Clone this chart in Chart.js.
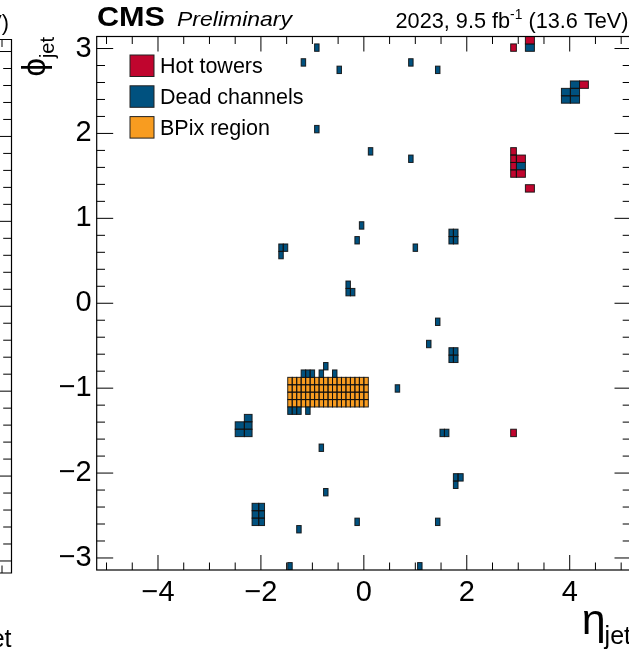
<!DOCTYPE html>
<html>
<head>
<meta charset="utf-8">
<script src="https://cdn.jsdelivr.net/npm/chart.js@4.4.1/dist/chart.umd.min.js"></script>
<style>
  html, body { margin: 0; padding: 0; background: #fff; overflow: hidden; }
  #wrap { position: relative; width: 640px; height: 653px; }
</style>
</head>
<body>
<div id="wrap"><canvas id="chart"></canvas></div>
<script>
// calorimeter tower edges in eta (positive half, mirrored below)
const etaEdgesPos = [0, 0.087, 0.174, 0.261, 0.348, 0.435, 0.522, 0.609, 0.696, 0.783, 0.870,
  0.957, 1.044, 1.131, 1.218, 1.305, 1.392, 1.479, 1.566, 1.653, 1.740, 1.830, 1.930, 2.043,
  2.172, 2.322, 2.500, 2.650, 2.853, 2.964, 3.139, 3.314, 3.489, 3.664, 3.839, 4.013, 4.191,
  4.363, 4.538, 4.716, 4.889, 5.191];
const phiBins = 72;
const xTickValues = [-4, -2, 0, 2, 4];
const yTickValues = [-3, -2, -1, 0, 1, 2, 3];

// cells: [lower eta edge, phi bin index]
const hotTowers = [
  [3.139, 71], [2.853, 70],
  [2.853, 56], [2.853, 55], [2.853, 54], [2.853, 53], [2.964, 55], [2.964, 53],
  [3.139, 51], [4.191, 65], [2.853, 18]
];
const deadChannels = [
  [-0.957, 70], [-1.218, 68], [-0.522, 67], [0.870, 68], [1.392, 67], [3.139, 70],
  [4.013, 65], [3.839, 64], [4.013, 64], [3.839, 63], [4.013, 63],
  [-0.957, 59], [0.087, 56], [0.870, 55], [2.964, 54],
  [-0.087, 46], [-0.174, 44], [0.957, 43],
  [1.653, 45], [1.740, 45], [1.653, 44], [1.740, 44],
  [-1.653, 43], [-1.566, 43], [-1.653, 42],
  [-0.348, 38], [-0.348, 37], [-0.261, 37],
  [1.392, 33], [1.218, 30],
  [1.653, 29], [1.740, 29], [1.653, 28], [1.740, 28],
  [-0.783, 27],
  [-1.218, 26], [-1.131, 26], [-1.044, 26], [-0.870, 26], [-0.609, 26],
  [0.609, 24],
  [-1.479, 21], [-1.392, 21], [-1.305, 21], [-1.131, 21],
  [-2.322, 20], [-2.500, 19], [-2.322, 19], [-2.500, 18], [-2.322, 18],
  [1.479, 18], [1.566, 18],
  [-0.870, 16],
  [1.740, 12], [1.830, 12], [1.740, 11],
  [-0.783, 10],
  [-2.172, 8], [-2.043, 8], [-2.172, 7], [-2.043, 7], [-2.172, 6], [-2.043, 6],
  [-1.305, 5], [-0.174, 6], [1.392, 6],
  [-1.479, 0], [1.044, 0]
];
const bpixEta = [-1.479, 0.087];
const bpixPhiBins = [22, 25];

const colors = {
  hot: '#c0052e',
  dead: '#00517f',
  bpix: '#f89c20',
  edge: 'rgba(15,15,15,0.9)'
};
const FONT = "'Liberation Sans', Arial, sans-serif";

const etaEdges = etaEdgesPos.slice(1).map(v => -v).reverse().concat(etaEdgesPos);
const dPhi = 2 * Math.PI / phiBins;

function upperEdge(low) {
  const i = etaEdges.findIndex(e => Math.abs(e - low) < 1e-6);
  return etaEdges[i + 1];
}
function toCell(c) {
  return { x: c[0], x2: upperEdge(c[0]), y: -Math.PI + c[1] * dPhi, y2: -Math.PI + (c[1] + 1) * dPhi };
}
const bpixCells = [];
etaEdges.forEach(e => {
  if (e >= bpixEta[0] - 1e-6 && e < bpixEta[1] - 1e-6) {
    for (let j = bpixPhiBins[0]; j <= bpixPhiBins[1]; j++) bpixCells.push(toCell([e, j]));
  }
});

// draws the tower cells through the chart scales
const cellPlugin = {
  id: 'cells',
  beforeDatasetsDraw(chart) {
    const { ctx, chartArea: a, scales: { x, y } } = chart;
    ctx.save();
    ctx.beginPath();
    ctx.rect(a.left, a.top, a.width, a.height);
    ctx.clip();
    chart.data.datasets.forEach(ds => {
      ctx.fillStyle = ds.backgroundColor;
      ds.data.forEach(c => {
        const x0 = x.getPixelForValue(c.x), x1 = x.getPixelForValue(c.x2);
        const y0 = y.getPixelForValue(c.y2), y1 = y.getPixelForValue(c.y);
        ctx.fillRect(x0, y0, x1 - x0, y1 - y0);
      });
      ctx.strokeStyle = colors.edge;
      ctx.lineWidth = 1;
      ds.data.forEach(c => {
        const x0 = x.getPixelForValue(c.x), x1 = x.getPixelForValue(c.x2);
        const y0 = y.getPixelForValue(c.y2), y1 = y.getPixelForValue(c.y);
        ctx.strokeRect(x0, y0, x1 - x0, y1 - y0);
      });
    });
    ctx.restore();
  }
};

// ROOT style frame with inward ticks on all four sides
const framePlugin = {
  id: 'frame',
  afterDraw(chart) {
    const { ctx, chartArea: a, scales: { x, y } } = chart;
    ctx.save();
    ctx.strokeStyle = '#000';
    ctx.lineWidth = 1.2;
    ctx.strokeRect(a.left, a.top, a.width, a.height);
    ctx.lineWidth = 1;
    ctx.beginPath();
    for (let k = -10; k <= 10; k++) {
      const v = k * 0.5;
      const px = x.getPixelForValue(v);
      const len = (k % 4 === 0) ? 15 : 7.5;
      ctx.moveTo(px, a.bottom); ctx.lineTo(px, a.bottom - len);
      ctx.moveTo(px, a.top); ctx.lineTo(px, a.top + len);
    }
    for (let k = -15; k <= 15; k++) {
      const v = k * 0.2;
      const py = y.getPixelForValue(v);
      const len = (k % 5 === 0) ? 16.5 : 8.3;
      ctx.moveTo(a.left, py); ctx.lineTo(a.left + len, py);
      ctx.moveTo(a.right, py); ctx.lineTo(a.right - len, py);
    }
    ctx.stroke();

    // neighbouring panel, cut off at the left edge
    const L = { right: 11.5, top: 39.5, bottom: 573 };
    const mid = (L.top + L.bottom) / 2, sc = (L.bottom - L.top) / (2 * Math.PI);
    ctx.lineWidth = 1.2;
    ctx.beginPath();
    ctx.moveTo(0, L.top); ctx.lineTo(L.right, L.top); ctx.lineTo(L.right, L.bottom); ctx.lineTo(0, L.bottom);
    ctx.stroke();
    ctx.lineWidth = 1;
    ctx.beginPath();
    for (let k = -15; k <= 15; k++) {
      const py = mid - k * 0.2 * sc;
      const len = (k % 5 === 0) ? 16.5 : 8.3;
      ctx.moveTo(L.right, py); ctx.lineTo(L.right - len, py);
    }
    ctx.moveTo(2, L.bottom); ctx.lineTo(2, L.bottom - 7.5);
    ctx.moveTo(2, L.top); ctx.lineTo(2, L.top + 7.5);
    ctx.stroke();
    ctx.restore();
  }
};

function fitText(ctx, text, x, y, width) {
  const w = ctx.measureText(text).width;
  ctx.save();
  ctx.translate(x, y);
  ctx.scale(width / w, 1);
  ctx.fillText(text, 0, 0);
  ctx.restore();
}

function drawLumi(ctx, right, base) {
  const parts = [['2023, 9.5 fb', 22, 0], ['-1', 14, -9], [' (13.6 TeV)', 22, 0]];
  let total = 0;
  parts.forEach(p => { ctx.font = p[1] + 'px ' + FONT; total += ctx.measureText(p[0]).width; });
  const target = 233;
  ctx.save();
  ctx.translate(right - target, base);
  ctx.scale(target / total, 1);
  let cx = 0;
  parts.forEach(p => {
    ctx.font = p[1] + 'px ' + FONT;
    ctx.fillText(p[0], cx, p[2]);
    cx += ctx.measureText(p[0]).width;
  });
  ctx.restore();
}

function drawEtaTitle(ctx, right, base) {
  ctx.font = '43px ' + FONT;
  const wEta = ctx.measureText('\u03b7').width;
  ctx.font = '25px ' + FONT;
  const wJet = ctx.measureText('jet').width;
  ctx.font = '43px ' + FONT;
  ctx.fillText('\u03b7', right - wJet - wEta + 1, base);
  ctx.font = '25px ' + FONT;
  ctx.fillText('jet', right - wJet, base + 10);
}

const textPlugin = {
  id: 'texts',
  afterDraw(chart) {
    const { ctx } = chart;
    ctx.save();
    ctx.fillStyle = '#000';
    ctx.textAlign = 'left';
    ctx.textBaseline = 'alphabetic';

    ctx.font = 'bold 27px ' + FONT;
    fitText(ctx, 'CMS', 97, 25.7, 68);
    ctx.font = 'italic 21px ' + FONT;
    fitText(ctx, 'Preliminary', 177, 25.7, 115);

    drawLumi(ctx, 628.5, 28.3);
    drawLumi(ctx, 9, 29.8);

    // legend
    const order = [2, 1, 0];
    order.forEach((di, r) => {
      const ds = chart.data.datasets[di];
      const top = 55 + r * 30.8;
      ctx.fillStyle = ds.backgroundColor;
      ctx.fillRect(130, top, 24, 21.5);
      ctx.strokeStyle = '#222';
      ctx.lineWidth = 1;
      ctx.strokeRect(130, top, 24, 21.5);
      ctx.fillStyle = '#000';
      ctx.font = '21.5px ' + FONT;
      ctx.fillText(ds.label, 160, top + 18.4);
    });

    // axis titles
    drawEtaTitle(ctx, 631, 634);
    drawEtaTitle(ctx, 11.5, 637);

    ctx.save();
    ctx.translate(45, 37);
    ctx.rotate(-Math.PI / 2);
    ctx.font = '20px ' + FONT;
    const wJet = ctx.measureText('jet').width;
    ctx.font = '33px ' + FONT;
    const wPhi = ctx.measureText('\u03d5').width;
    ctx.fillText('\u03d5', -wJet - wPhi, 0);
    ctx.font = '20px ' + FONT;
    ctx.fillText('jet', -wJet, 9);
    ctx.restore();

    ctx.restore();
  }
};

const minus = v => (v < 0 ? '\u2212' + Math.abs(v) : String(v));

const chartobj = new Chart(document.getElementById('chart'), {
  type: 'scatter',
  data: {
    datasets: [
      { label: 'BPix region', data: bpixCells, backgroundColor: colors.bpix, pointRadius: 0 },
      { label: 'Dead channels', data: deadChannels.map(toCell), backgroundColor: colors.dead, pointRadius: 0 },
      { label: 'Hot towers', data: hotTowers.map(toCell), backgroundColor: colors.hot, pointRadius: 0 }
    ]
  },
  options: {
    responsive: true,
    maintainAspectRatio: false,
    animation: false,
    events: [],
    layout: { padding: { top: 36.5, right: 9, left: 0, bottom: 0 } },
    plugins: { legend: { display: false }, tooltip: { enabled: false } },
    scales: {
      x: {
        type: 'linear', min: -5.191, max: 5.191,
        grid: { display: false, drawTicks: false },
        border: { display: false },
        afterBuildTicks: s => { s.ticks = xTickValues.map(v => ({ value: v })); },
        afterFit: s => { s.height = 83; },
        ticks: { padding: 6, color: '#000', font: { family: FONT, size: 29 }, callback: v => minus(v), maxRotation: 0 }
      },
      y: {
        type: 'linear', min: -Math.PI, max: Math.PI,
        grid: { display: false, drawTicks: false },
        border: { display: false },
        afterBuildTicks: s => { s.ticks = yTickValues.map(v => ({ value: v })); },
        afterFit: s => { s.width = 96.7; },
        ticks: { padding: 5, color: '#000', font: { family: FONT, size: 29 }, callback: v => minus(v) }
      }
    }
  },
  plugins: [cellPlugin, framePlugin, textPlugin]
});
</script>
</body>
</html>
